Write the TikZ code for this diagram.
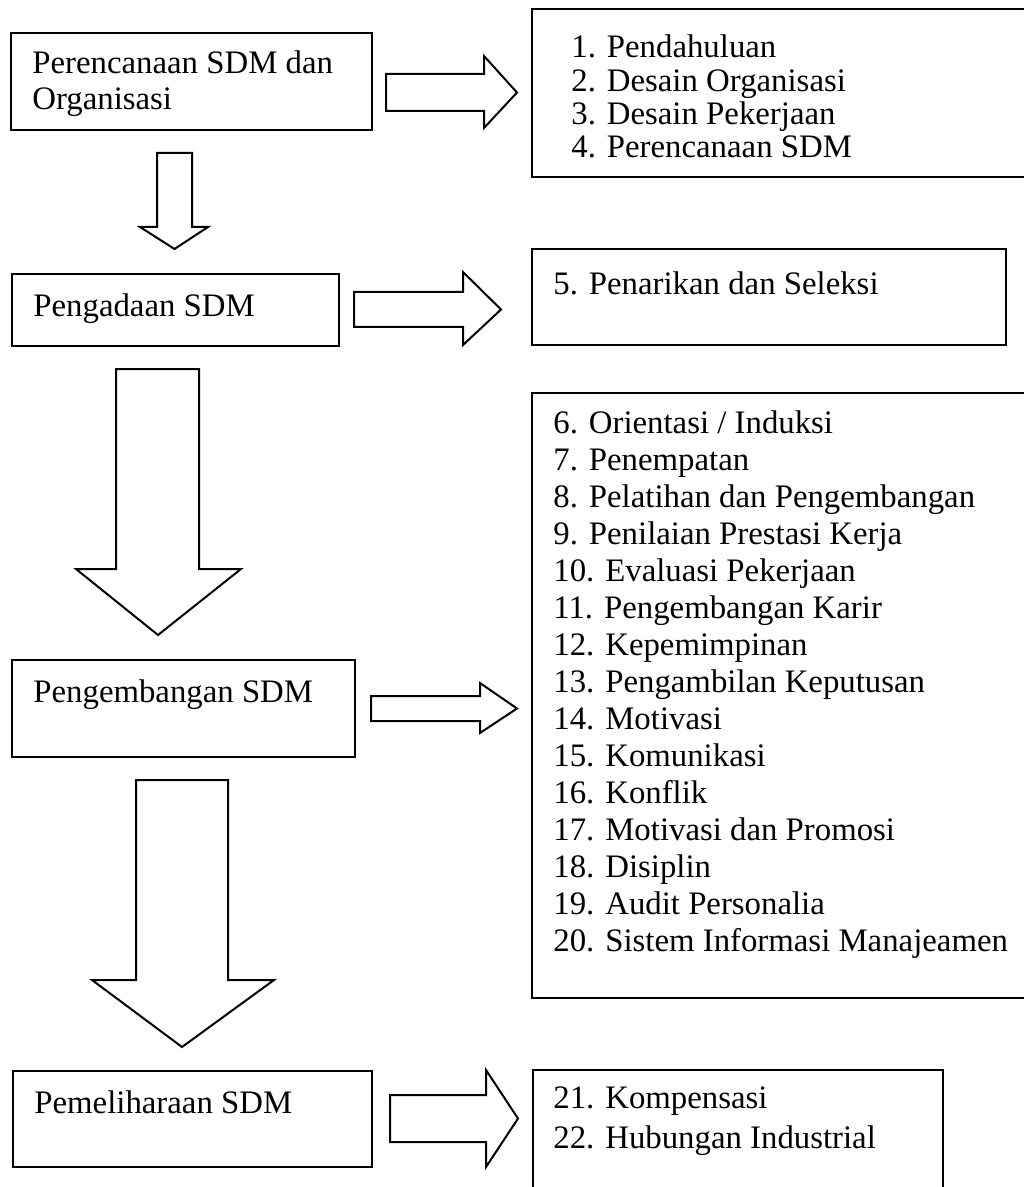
\documentclass[tikz,border=0pt]{standalone}
\usepackage{fontspec}
\setmainfont{Liberation Serif}
\usepackage{tikz}

\begin{document}
\begin{tikzpicture}[x=0.5pt,y=-0.5pt,
        kotak/.style={draw,line width=1.1pt},
        panah/.style={draw,line width=1pt,line join=miter,fill=white},
        teks/.style={anchor=base west,inner sep=0pt,font=\fontsize{16.4}{18}\selectfont}]

                \useasboundingbox (0,0) rectangle (1023,1187);

                % kotak kiri
                \draw[kotak] (11,33) rectangle (372,130);
                \draw[kotak] (12,274) rectangle (339,346);
                \draw[kotak] (12,660) rectangle (355,757);
                \draw[kotak] (13,1071) rectangle (372,1167);

                % kotak kanan
                \draw[kotak] (532,9) rectangle (1030,177);
                \draw[kotak] (532,249) rectangle (1006,345);
                \draw[kotak] (532,393) rectangle (1030,998);
                \draw[kotak] (533,1070) rectangle (943,1200);

                \node[teks] (perencanaan) at (32,74) {Perencanaan SDM dan};
                \node[teks] (organisasi) at (32,110) {Organisasi};
                \node[teks] (pengadaan) at (33,316) {Pengadaan SDM};
                \node[teks] (pengembangan) at (33,702) {Pengembangan SDM};
                \node[teks] (pemeliharaan) at (34,1113) {Pemeliharaan SDM};

                \foreach \t [count=\i from 0] in {1. Pendahuluan, 2. Desain Organisasi,
                        3. Desain Pekerjaan, 4. Perencanaan SDM}
                    \node[teks] (bab\i) at (571,58+33.3*\i) {\t};
                \node[teks] (penarikan) at (553,295) {5. Penarikan dan Seleksi};
                \foreach \t [count=\i from 0] in {6. Orientasi / Induksi, 7. Penempatan,
                        8. Pelatihan dan Pengembangan, 9. Penilaian Prestasi Kerja,
                        10. Evaluasi Pekerjaan, 11. Pengembangan Karir, 12. Kepemimpinan,
                        13. Pengambilan Keputusan, 14. Motivasi, 15. Komunikasi, 16. Konflik,
                        17. Motivasi dan Promosi, 18. Disiplin, 19. Audit Personalia,
                        20. Sistem Informasi Manajeamen}
                    \node[teks] (daftar\i) at (553,433+37*\i) {\t};
                \node[teks] (kompensasi) at (553,1108) {21. Kompensasi};
                \node[teks] (hubungan) at (553,1148) {22. Hubungan Industrial};

                % panah ke kanan
                \draw[panah] (386,74) -- (484,74) -- (484,56) -- (517,92.5) -- (484,128) -- (484,111) -- (386,111) -- cycle;
                \draw[panah] (354,292) -- (463,292) -- (463,272) -- (501,309.5) -- (463,345) -- (463,327) -- (354,327) -- cycle;
                \draw[panah] (371,696) -- (480,696) -- (480,683) -- (517,708.5) -- (480,733) -- (480,721) -- (371,721) -- cycle;
                \draw[panah] (390,1095) -- (486,1095) -- (486,1070) -- (518,1118.5) -- (486,1167) -- (486,1142) -- (390,1142) -- cycle;

                % panah ke bawah
                \draw[panah] (157,153) -- (192,153) -- (192,227) -- (208,227) -- (174.5,249) -- (140,227) -- (157,227) -- cycle;
                \draw[panah] (116,369) -- (199,369) -- (199,569) -- (241,569) -- (158,635) -- (76,569) -- (116,569) -- cycle;
                \draw[panah] (136,780) -- (228,780) -- (228,980) -- (274,980) -- (182,1047) -- (92,980) -- (136,980) -- cycle;
            \end{tikzpicture}
\end{document}
